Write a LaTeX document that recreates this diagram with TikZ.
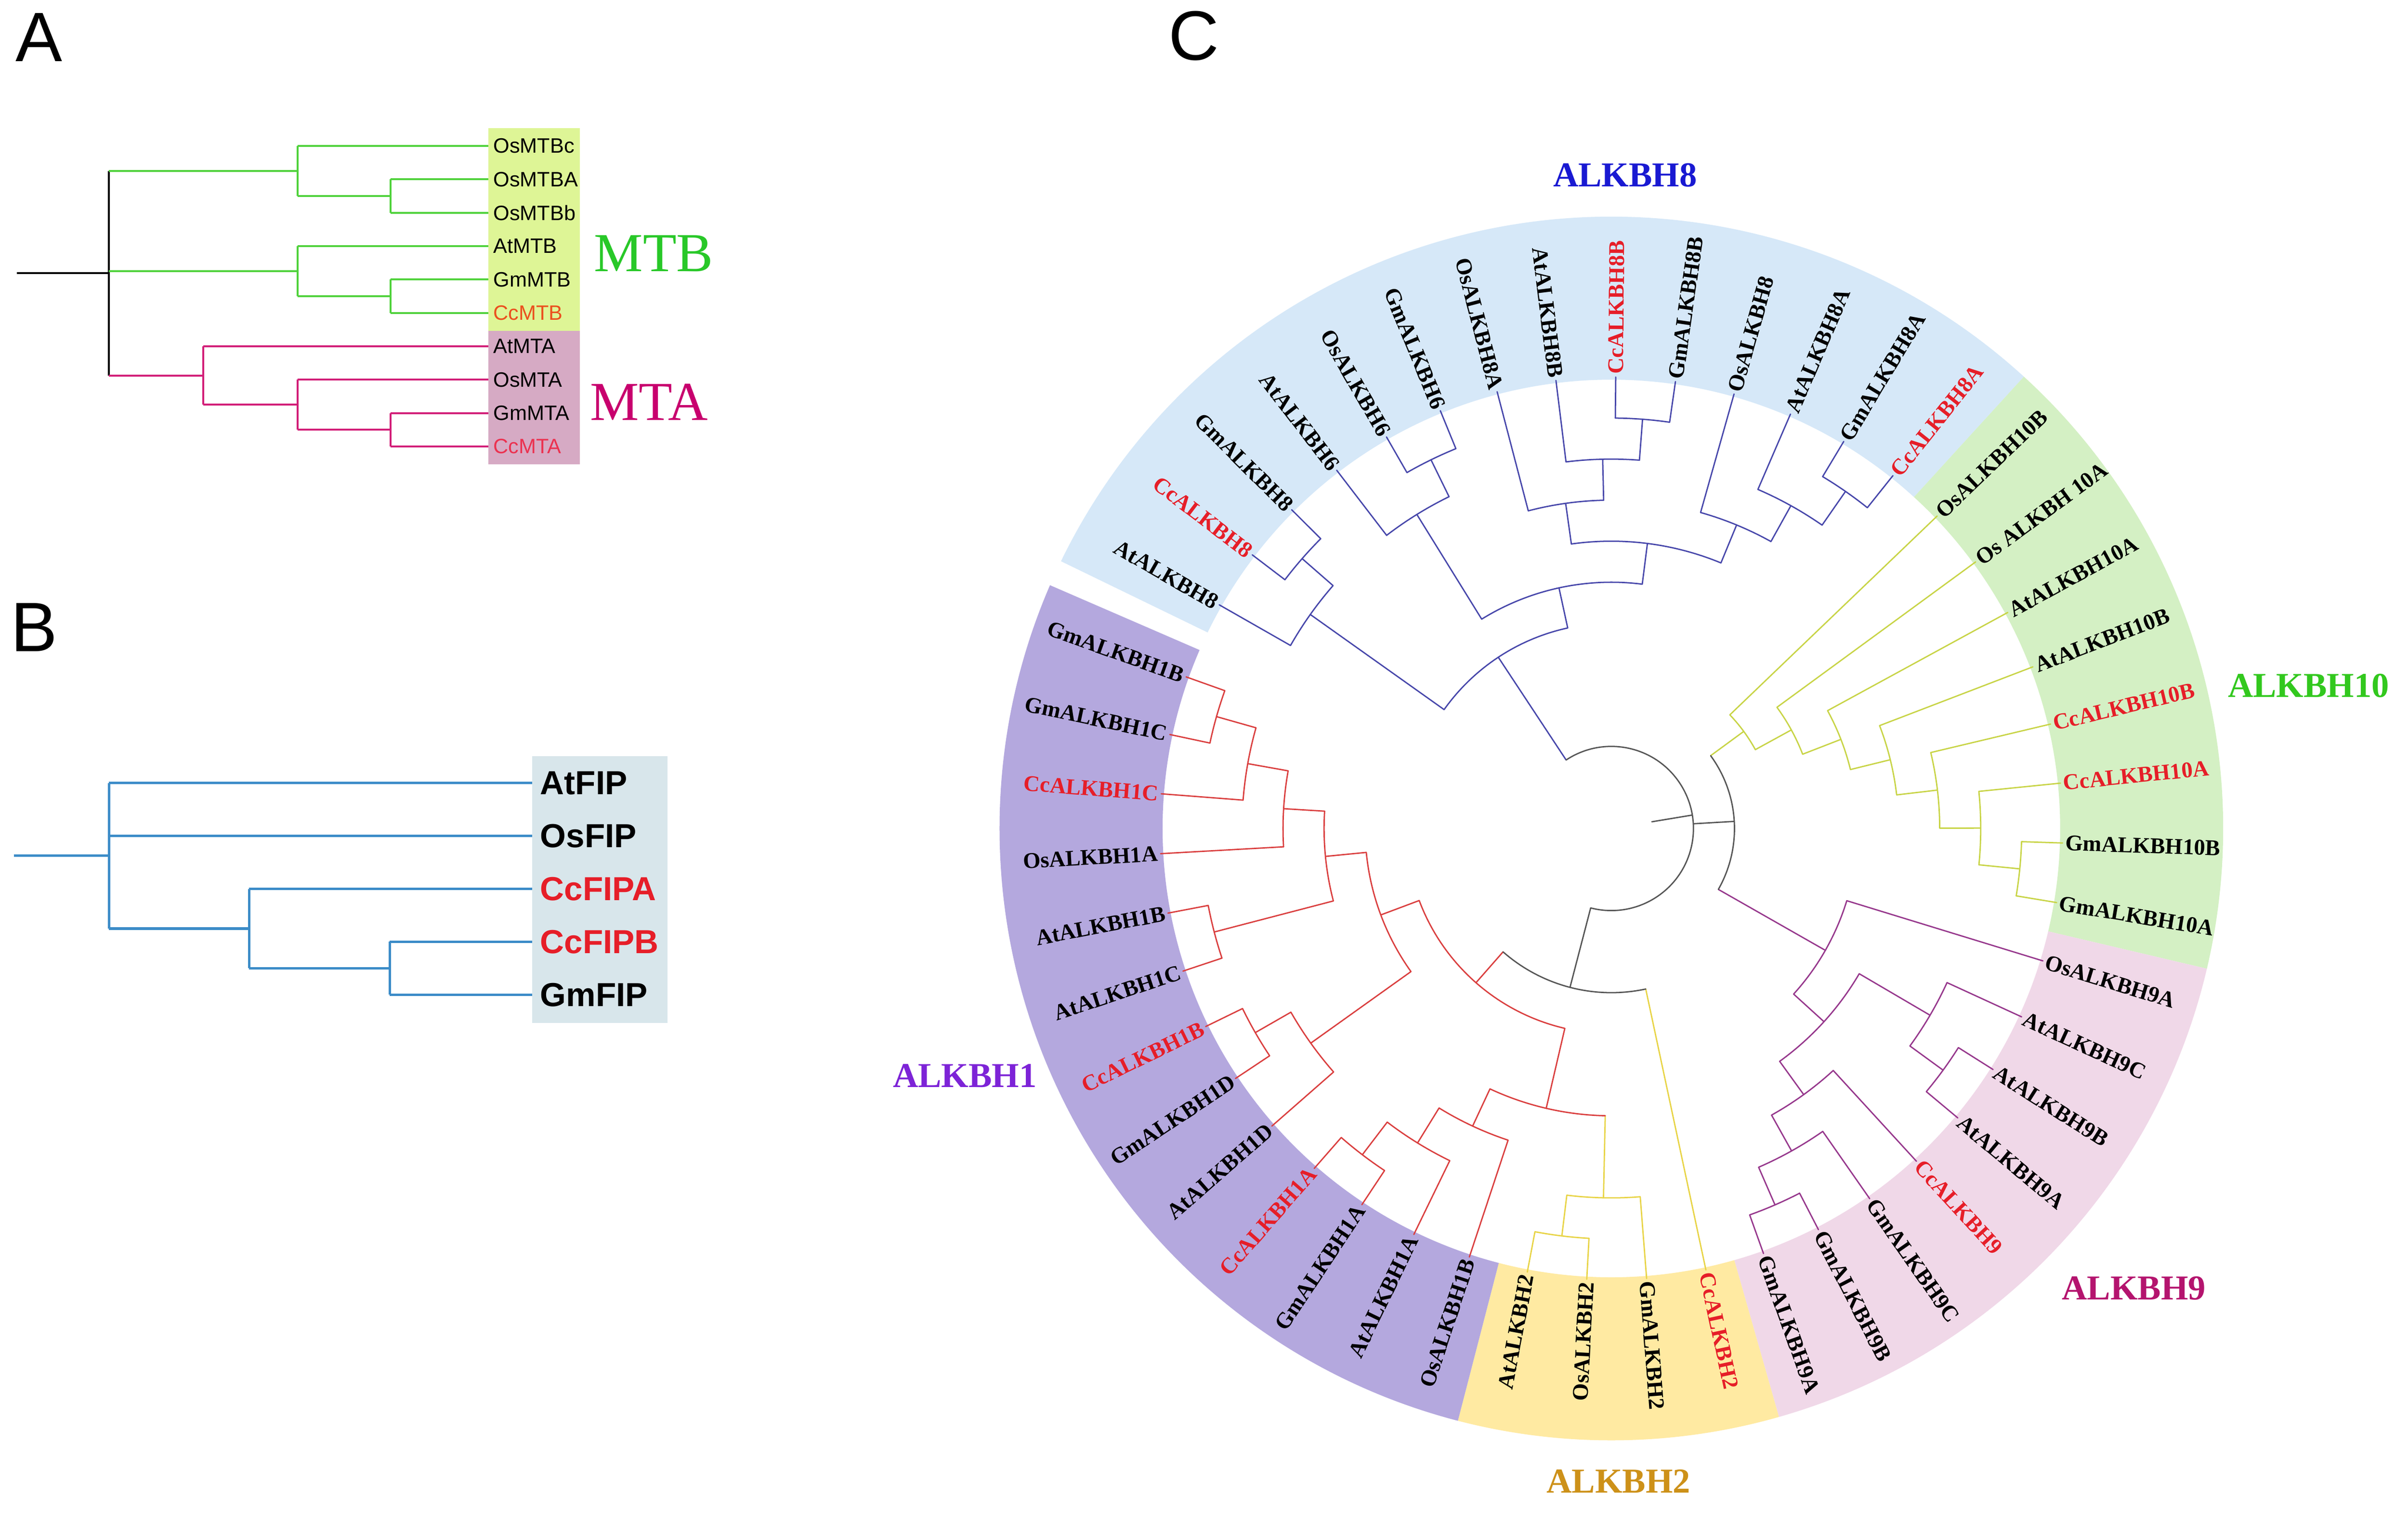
\documentclass[tikz,border=0pt]{standalone}
\usepackage{fontspec}
\setmainfont{Liberation Serif}
\setsansfont{Liberation Sans}
\definecolor{cB}{RGB}{70,70,170}
\definecolor{cYG}{RGB}{200,212,70}
\definecolor{cPu}{RGB}{150,55,140}
\definecolor{cR}{RGB}{218,62,62}
\definecolor{cYe}{RGB}{232,212,70}
\definecolor{cK}{RGB}{85,85,85}
\definecolor{bandB}{RGB}{214,232,248}
\definecolor{bandG}{RGB}{212,240,196}
\definecolor{bandP}{RGB}{240,216,232}
\definecolor{bandY}{RGB}{255,234,162}
\definecolor{bandV}{RGB}{180,168,222}
\definecolor{labRed}{RGB}{230,30,40}
\definecolor{gA}{RGB}{80,210,60}
\definecolor{pA}{RGB}{210,30,120}
\definecolor{boxGA}{RGB}{222,245,150}
\definecolor{boxPA}{RGB}{214,170,196}
\definecolor{lineBB}{RGB}{60,140,200}
\definecolor{boxBB}{RGB}{216,230,235}
\definecolor{tMTB}{RGB}{40,200,40}
\definecolor{tMTA}{RGB}{200,0,110}
\definecolor{tCcMTB}{RGB}{235,80,30}
\definecolor{tCcMTA}{RGB}{235,50,80}
\definecolor{gEight}{RGB}{25,25,210}
\definecolor{gTen}{RGB}{50,200,30}
\definecolor{gNine}{RGB}{180,20,110}
\definecolor{gTwo}{RGB}{205,145,25}
\definecolor{gOne}{RGB}{125,35,215}
\newcommand{\ulev}{0.866}
% node of the circular tree: nodecolour, level, angleA, colourA, levelA, angleB, colourB, levelB
\newcommand{\cladeN}[8]{%
  \draw[#4] ({#3}:{#2*\ulev}) -- ({#3}:{#5*\ulev});
  \draw[#7] ({#6}:{#2*\ulev}) -- ({#6}:{#8*\ulev});
  \draw[#1] ({#3}:{#2*\ulev}) arc[start angle={#3}, end angle={#6}, radius={#2*\ulev}];}
\newcommand{\bandSec}[3]{\fill[#1] (#2:9.47) arc[start angle=#2, end angle=#3, radius=9.47] -- (#3:12.91) arc[start angle=#3, end angle=#2, radius=12.91] -- cycle;}
\newcommand{\leafR}[4]{\node[leaflab,text=#4,anchor=west,rotate=#2] (#1) at (#2:9.58) {#3};}
\newcommand{\leafL}[4]{\node[leaflab,text=#4,anchor=east,rotate=#2+180] (#1) at (#2:9.58) {#3};}
\tikzset{
  leaflab/.style={font=\bfseries\fontsize{13.5}{16}\selectfont, inner sep=0pt},
  grouplab/.style={font=\bfseries\fontsize{21}{24}\selectfont, inner sep=0pt},
  alab/.style={font=\sffamily\fontsize{12.5}{14}\selectfont, inner sep=0pt, anchor=west},
  blab/.style={font=\sffamily\bfseries\fontsize{20}{23}\selectfont, inner sep=0pt, anchor=west},
  panel/.style={font=\sffamily\fontsize{42}{48}\selectfont, inner sep=0pt, anchor=base west},
  lnA/.style={line width=1.1pt},
  lnB/.style={line width=1.5pt, lineBB}
}
\begin{document}
\begin{tikzpicture}
\useasboundingbox (0,0) rectangle (50.81,-32.09);
\fill[white] (0,0) rectangle (50.81,-32.09);

% ================= Panel C =================
\begin{scope}[shift={(34.00,-17.48)}]
\bandSec{bandB}{154.1}{47.6}
\bandSec{bandG}{47.6}{-13.25}
\bandSec{bandP}{-13.25}{-74.1}
\bandSec{bandY}{-74.1}{-104.53}
\bandSec{bandV}{-104.53}{-203.43}
\begin{scope}[line width=0.8pt, line cap=round]
% ALKBH8
\cladeN{cB}{10}{142.693}{cB}{11}{135.086}{cB}{11}
\cladeN{cB}{9}{150.3}{cB}{11}{138.89}{cB}{10}
\cladeN{cB}{10}{119.872}{cB}{11}{112.265}{cB}{11}
\cladeN{cB}{9}{127.479}{cB}{11}{116.069}{cB}{10}
\cladeN{cB}{10}{89.444}{cB}{11}{81.837}{cB}{11}
\cladeN{cB}{9}{97.051}{cB}{11}{85.641}{cB}{10}
\cladeN{cB}{8}{104.658}{cB}{11}{91.346}{cB}{9}
\cladeN{cB}{10}{59.016}{cB}{11}{51.409}{cB}{11}
\cladeN{cB}{9}{66.623}{cB}{11}{55.213}{cB}{10}
\cladeN{cB}{8}{74.23}{cB}{11}{60.918}{cB}{9}
\cladeN{cB}{7}{98.002}{cB}{8}{67.574}{cB}{8}
\cladeN{cB}{6}{121.774}{cB}{9}{82.788}{cB}{7}
\cladeN{cB}{5}{144.595}{cB}{9}{102.281}{cB}{6}
% ALKBH10
\cladeN{cYG}{10}{-1.84}{cYG}{11}{-9.447}{cYG}{11}
\cladeN{cYG}{9}{5.767}{cYG}{11}{-5.644}{cYG}{10}
\cladeN{cYG}{8}{13.374}{cYG}{11}{0.062}{cYG}{9}
\cladeN{cYG}{7}{20.981}{cYG}{11}{6.718}{cYG}{8}
\cladeN{cYG}{6}{28.588}{cYG}{11}{13.85}{cYG}{7}
\cladeN{cYG}{5}{36.195}{cYG}{11}{21.219}{cYG}{6}
\cladeN{cYG}{4}{43.802}{cYG}{11}{28.707}{cYG}{5}
% ALKBH9
\cladeN{cPu}{10}{-32.268}{cPu}{11}{-39.875}{cPu}{11}
\cladeN{cPu}{9}{-24.661}{cPu}{11}{-36.072}{cPu}{10}
\cladeN{cPu}{10}{-62.696}{cPu}{11}{-70.303}{cPu}{11}
\cladeN{cPu}{9}{-55.089}{cPu}{11}{-66.5}{cPu}{10}
\cladeN{cPu}{8}{-47.482}{cPu}{11}{-60.795}{cPu}{9}
\cladeN{cPu}{7}{-30.367}{cPu}{9}{-54.139}{cPu}{8}
\cladeN{cPu}{6}{-17.054}{cPu}{11}{-42.253}{cPu}{7}
\cladeN{cK}{3}{36.255}{cYG}{4}{-29.654}{cPu}{6}
% ALKBH1 / ALKBH2
\cladeN{cR}{10}{-199.622}{cR}{11}{-192.015}{cR}{11}
\cladeN{cR}{9}{-195.819}{cR}{10}{-184.408}{cR}{11}
\cladeN{cR}{8}{-190.114}{cR}{9}{-176.801}{cR}{11}
\cladeN{cR}{10}{-169.194}{cR}{11}{-161.587}{cR}{11}
\cladeN{cR}{7}{-183.458}{cR}{8}{-165.391}{cR}{10}
\cladeN{cR}{10}{-153.98}{cR}{11}{-146.373}{cR}{11}
\cladeN{cR}{9}{-150.177}{cR}{10}{-138.766}{cR}{11}
\cladeN{cR}{6}{-174.425}{cR}{7}{-144.472}{cR}{9}
\cladeN{cR}{10}{-131.159}{cR}{11}{-123.552}{cR}{11}
\cladeN{cR}{9}{-127.356}{cR}{10}{-115.945}{cR}{11}
\cladeN{cR}{8}{-121.65}{cR}{9}{-108.338}{cR}{11}
\cladeN{cYe}{10}{-100.731}{cYe}{11}{-93.124}{cYe}{11}
\cladeN{cYe}{9}{-96.928}{cYe}{10}{-85.517}{cYe}{11}
\cladeN{cR}{7}{-114.994}{cR}{8}{-91.222}{cYe}{9}
\cladeN{cR}{5}{-159.449}{cR}{6}{-103.108}{cR}{7}
\cladeN{cK}{4}{-131.279}{cR}{5}{-77.91}{cYe}{11}
% root
\cladeN{cK}{2}{123.438}{cB}{5}{-104.594}{cK}{4}
\draw[cK] ({3.301}:{2*\ulev}) -- ({3.301}:{3*\ulev});
\draw[cK] ({9.422}:{1*\ulev}) -- ({9.422}:{2*\ulev});
\end{scope}
% leaf labels
\leafL{l0}{150.3}{AtALKBH8}{black}
\leafL{l1}{142.693}{CcALKBH8}{labRed}
\leafL{l2}{135.086}{GmALKBH8}{black}
\leafL{l3}{127.479}{AtALKBH6}{black}
\leafL{l4}{119.872}{OsALKBH6}{black}
\leafL{l5}{112.265}{GmALKBH6}{black}
\leafL{l6}{104.658}{OsALKBH8A}{black}
\leafL{l7}{97.051}{AtALKBH8B}{black}
\leafR{l8}{89.444}{CcALKBH8B}{labRed}
\leafR{l9}{81.837}{GmALKBH8B}{black}
\leafR{l10}{74.23}{OsALKBH8}{black}
\leafR{l11}{66.623}{AtALKBH8A}{black}
\leafR{l12}{59.016}{GmALKBH8A}{black}
\leafR{l13}{51.409}{CcALKBH8A}{labRed}
\leafR{l14}{43.802}{OsALKBH10B}{black}
\leafR{l15}{36.195}{Os ALKBH 10A}{black}
\leafR{l16}{28.588}{AtALKBH10A}{black}
\leafR{l17}{20.981}{AtALKBH10B}{black}
\leafR{l18}{13.374}{CcALKBH10B}{labRed}
\leafR{l19}{5.767}{CcALKBH10A}{labRed}
\leafR{l20}{-1.84}{GmALKBH10B}{black}
\leafR{l21}{-9.447}{GmALKBH10A}{black}
\leafR{l22}{-17.054}{OsALKBH9A}{black}
\leafR{l23}{-24.661}{AtALKBH9C}{black}
\leafR{l24}{-32.268}{AtALKBH9B}{black}
\leafR{l25}{-39.875}{AtALKBH9A}{black}
\leafR{l26}{-47.482}{CcALKBH9}{labRed}
\leafR{l27}{-55.089}{GmALKBH9C}{black}
\leafR{l28}{-62.696}{GmALKBH9B}{black}
\leafR{l29}{-70.303}{GmALKBH9A}{black}
\leafR{l30}{-77.91}{CcALKBH2}{labRed}
\leafR{l31}{-85.517}{GmALKBH2}{black}
\leafL{l32}{-93.124}{OsALKBH2}{black}
\leafL{l33}{-100.731}{AtALKBH2}{black}
\leafL{l34}{-108.338}{OsALKBH1B}{black}
\leafL{l35}{-115.945}{AtALKBH1A}{black}
\leafL{l36}{-123.552}{GmALKBH1A}{black}
\leafL{l37}{-131.159}{CcALKBH1A}{labRed}
\leafL{l38}{-138.766}{AtALKBH1D}{black}
\leafL{l39}{-146.373}{GmALKBH1D}{black}
\leafL{l40}{-153.98}{CcALKBH1B}{labRed}
\leafL{l41}{-161.587}{AtALKBH1C}{black}
\leafL{l42}{-169.194}{AtALKBH1B}{black}
\leafL{l43}{-176.801}{OsALKBH1A}{black}
\leafL{l44}{-184.408}{CcALKBH1C}{labRed}
\leafL{l45}{-192.015}{GmALKBH1C}{black}
\leafL{l46}{-199.622}{GmALKBH1B}{black}
\end{scope}

% ================= pixel scope =================
\begin{scope}[x=0.01cm,y=-0.01cm]
% group labels of panel C
\node[grouplab,text=gEight] (gl8) at (3431,370) {ALKBH8};
\node[grouplab,text=gTen] (gl10) at (4874,1448) {ALKBH10};
\node[grouplab,text=gNine] (gl9) at (4505,2720) {ALKBH9};
\node[grouplab,text=gTwo] (gl2) at (3417,3127) {ALKBH2};
\node[grouplab,text=gOne] (gl1) at (2037,2271) {ALKBH1};

% panel letters
\node[panel] (pA) at (32,130) {A};
\node[panel] (pB) at (22,1375) {B};
\node[panel] (pC) at (2466,127) {C};

% ---------- Panel A ----------
\fill[boxGA] (1031,270) rectangle (1224,699);
\fill[boxPA] (1031,699) rectangle (1224,980);
\draw[lnA,black] (36,576.8) -- (230,576.8);
\draw[lnA,black] (230,360.9) -- (230,792.7);
\draw[lnA,gA] (230,360.9) -- (628,360.9);
\draw[lnA,gA] (628,308) -- (628,413.75);
\draw[lnA,gA] (628,308) -- (1031,308);
\draw[lnA,gA] (628,413.75) -- (825,413.75);
\draw[lnA,gA] (825,378.5) -- (825,449);
\draw[lnA,gA] (825,378.5) -- (1031,378.5);
\draw[lnA,gA] (825,449) -- (1031,449);
\draw[lnA,gA] (230,572.4) -- (628,572.4);
\draw[lnA,gA] (628,519.5) -- (628,625.25);
\draw[lnA,gA] (628,519.5) -- (1031,519.5);
\draw[lnA,gA] (628,625.25) -- (825,625.25);
\draw[lnA,gA] (825,590) -- (825,660.5);
\draw[lnA,gA] (825,590) -- (1031,590);
\draw[lnA,gA] (825,660.5) -- (1031,660.5);
\draw[lnA,pA] (230,792.7) -- (429,792.7);
\draw[lnA,pA] (429,731) -- (429,854.4);
\draw[lnA,pA] (429,731) -- (1031,731);
\draw[lnA,pA] (429,854.4) -- (628,854.4);
\draw[lnA,pA] (628,801.5) -- (628,907.25);
\draw[lnA,pA] (628,801.5) -- (1031,801.5);
\draw[lnA,pA] (628,907.25) -- (825,907.25);
\draw[lnA,pA] (825,872) -- (825,942.5);
\draw[lnA,pA] (825,872) -- (1031,872);
\draw[lnA,pA] (825,942.5) -- (1031,942.5);
\node[alab] (a0) at (1041,308) {OsMTBc};
\node[alab] (a1) at (1041,378.5) {OsMTBA};
\node[alab] (a2) at (1041,449) {OsMTBb};
\node[alab] (a3) at (1041,519.5) {AtMTB};
\node[alab] (a4) at (1041,590) {GmMTB};
\node[alab,text=tCcMTB] (a5) at (1041,660.5) {CcMTB};
\node[alab] (a6) at (1041,731) {AtMTA};
\node[alab] (a7) at (1041,801.5) {OsMTA};
\node[alab] (a8) at (1041,872) {GmMTA};
\node[alab,text=tCcMTA] (a9) at (1041,942.5) {CcMTA};
\node[font=\fontsize{33}{36}\selectfont,text=tMTB,inner sep=0pt] (mtb) at (1380,535) {MTB};
\node[font=\fontsize{33}{36}\selectfont,text=tMTA,inner sep=0pt] (mta) at (1370,849) {MTA};

% ---------- Panel B ----------
\fill[boxBB] (1124,1596) rectangle (1409,2160);
\draw[lnB] (29,1806.65) -- (230,1806.65);
\draw[lnB] (230,1653) -- (230,1960.3);
\draw[lnB] (230,1653) -- (1124,1653);
\draw[lnB] (230,1764.75) -- (1124,1764.75);
\draw[lnB] (230,1960.3) -- (526,1960.3);
\draw[lnB] (526,1876.5) -- (526,2044.1);
\draw[lnB] (526,1876.5) -- (1124,1876.5);
\draw[lnB] (526,2044.1) -- (823,2044.1);
\draw[lnB] (823,1988.25) -- (823,2100);
\draw[lnB] (823,1988.25) -- (1124,1988.25);
\draw[lnB] (823,2100) -- (1124,2100);
\node[blab] (b0) at (1140,1653) {AtFIP};
\node[blab] (b1) at (1140,1764.75) {OsFIP};
\node[blab,text=labRed] (b2) at (1140,1876.5) {CcFIPA};
\node[blab,text=labRed] (b3) at (1140,1988.25) {CcFIPB};
\node[blab] (b4) at (1140,2100) {GmFIP};
\end{scope}
\end{tikzpicture}
\end{document}
